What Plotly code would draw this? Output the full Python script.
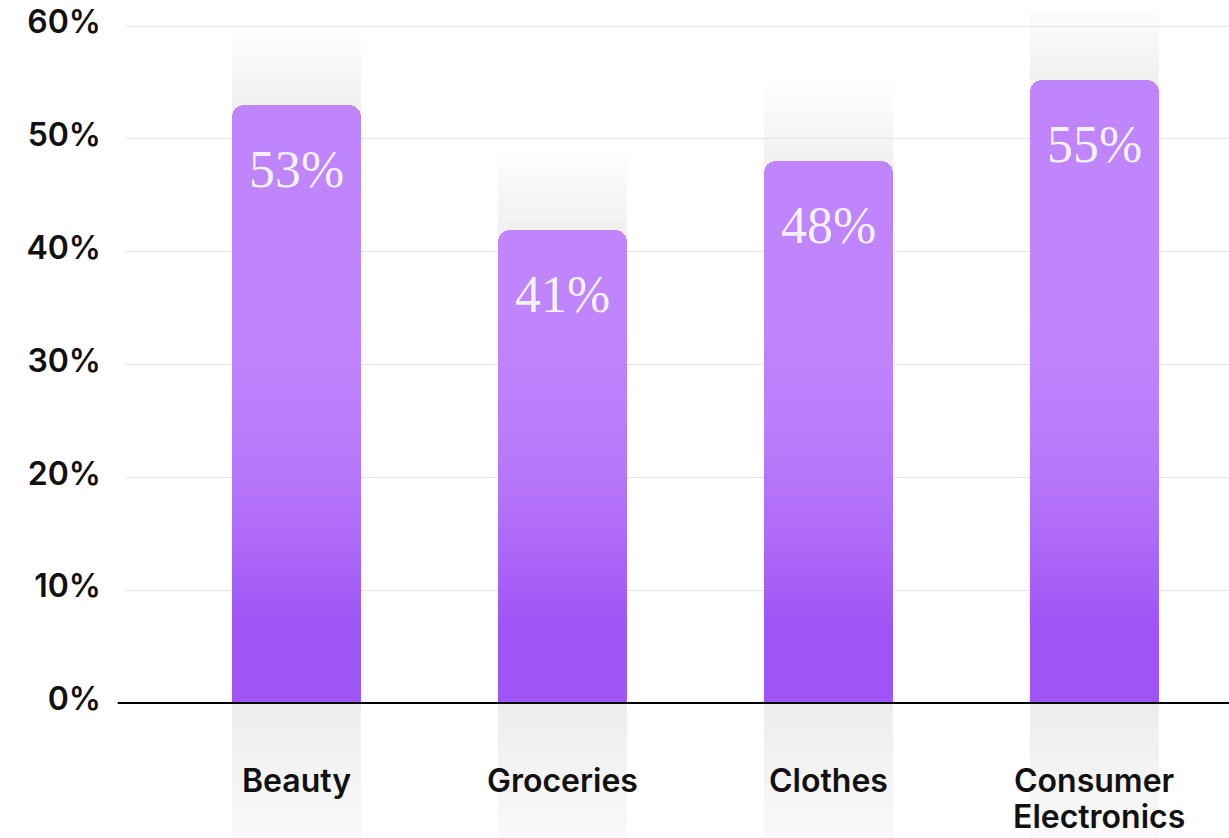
import plotly.graph_objects as go

categories = ["Beauty", "Groceries", "Clothes", "Consumer<br>Electronics"]
values = [53, 41.9, 48, 55.2]
value_labels = ["53%", "41%", "48%", "55%"]
tick_values = [0, 10, 20, 30, 40, 50, 60]
tick_labels = ["0%", "10%", "20%", "30%", "40%", "50%", "60%"]

BAR_W = 0.485
Y_MIN, Y_MAX = -11.97, 61.42
FADE = 7.0          # how far the grey column reaches above the bar
GRAD_TOP = 36       # where the bar gradient has fully faded to the light top colour
LINE_GAP = 36       # px between lines of a wrapped category label

LIGHT = "#C084FC"
SANS = "Inter, 'Noto Sans', sans-serif"
SERIF = "'Liberation Serif', 'DejaVu Serif', serif"


def lerp(c0, c1, t):
    return "rgb(%d,%d,%d)" % tuple(round(a + (b - a) * t) for a, b in zip(c0, c1))


def grad_shapes(x0, x1, y0, y1, c0, c1, n):
    out = []
    step = (y1 - y0) / n
    for k in range(n):
        out.append(dict(type="rect", xref="x", yref="y", layer="below",
                        x0=x0, x1=x1, y0=y0 + k * step, y1=y0 + (k + 1) * step + 0.02,
                        fillcolor=lerp(c0, c1, (k + 0.5) / n), line=dict(width=0)))
    return out


xs = list(range(len(categories)))
shapes = []
for i, v in zip(xs, values):
    x0, x1 = i - BAR_W / 2, i + BAR_W / 2
    shapes += grad_shapes(x0, x1, Y_MIN, 0, (249, 249, 249), (237, 237, 237), 14)
    shapes.append(dict(type="rect", xref="x", yref="y", layer="below", x0=x0, x1=x1,
                       y0=0, y1=v, fillcolor="rgb(240,240,240)", line=dict(width=0)))
    shapes += grad_shapes(x0, x1, v, v + FADE, (240, 240, 240), (254, 254, 254), 18)

# zero line
shapes.append(dict(type="line", xref="paper", yref="y", x0=-0.0075, x1=1, y0=0, y1=0,
                   line=dict(color="#000000", width=2), layer="above"))

fig = go.Figure()
fig.add_trace(go.Bar(x=xs, y=values, width=BAR_W, marker=dict(color=LIGHT, cornerradius=12,
                     line=dict(width=0)), hoverinfo="skip"))

for i, v in zip(xs, values):
    x0, x1 = i - BAR_W / 2, i + BAR_W / 2
    fig.add_trace(go.Scatter(
        x=[x0, x1, x1, x0, x0], y=[0, 0, GRAD_TOP, GRAD_TOP, 0],
        mode="lines", line=dict(width=0), fill="toself", hoverinfo="skip",
        fillgradient=dict(type="vertical", start=0, stop=GRAD_TOP,
                          colorscale=[[0, "rgba(159,85,245,1)"], [0.2, "rgba(159,85,245,1)"],
                                      [1, "rgba(192,132,252,0)"]]),
        showlegend=False))

annotations = []
for i, v, lab in zip(xs, values, value_labels):
    annotations.append(dict(x=i, y=v, xref="x", yref="y", text=lab, showarrow=False,
                            yanchor="middle", yshift=-64,
                            font=dict(family=SERIF, size=52, color="#F2F2F2")))
for i, c in zip(xs, categories):
    lines = c.split("<br>")
    for k, line in enumerate(lines):
        annotations.append(dict(x=i, y=0, xref="x", yref="y", text=line, showarrow=False,
                                yanchor="top", yshift=-56 - LINE_GAP * k, xanchor="center",
                                xshift=5 * k,
                                font=dict(family=SANS, size=32, color="#111111", weight=600)))

fig.update_layout(
    width=1229, height=838,
    margin=dict(l=126, r=0, t=10, b=0),
    plot_bgcolor="white", paper_bgcolor="white",
    showlegend=False, bargap=0,
    shapes=shapes, annotations=annotations,
    xaxis=dict(range=[-0.641, 3.506], showgrid=False, zeroline=False, showticklabels=False,
               showline=False, fixedrange=True),
    yaxis=dict(range=[Y_MIN, Y_MAX], tickvals=tick_values, ticktext=tick_labels,
               showgrid=True, gridcolor="#E4E4E4", gridwidth=1, zeroline=False,
               showline=False, ticks="", ticklabelstandoff=24, ticklabelshift=-4,
               tickfont=dict(family=SANS, size=32, color="#111111", weight=600)),
)

fig.write_html("out.html")
